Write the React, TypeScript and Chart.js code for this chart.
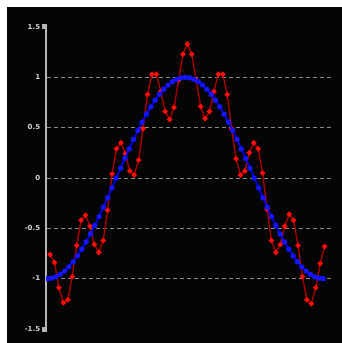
import React, { useEffect, useRef } from "react";
import { Chart, registerables } from "chart.js";

Chart.register(...registerables);

const blueValues = [
  -1, -0.995, -0.981, -0.957, -0.924, -0.882, -0.831, -0.773, -0.707, -0.634, -0.556, -0.471, -0.383, -0.29, -0.195, -0.098, 0,
  0.098, 0.195, 0.29, 0.383, 0.471, 0.556, 0.634, 0.707, 0.773, 0.831, 0.882, 0.924, 0.957, 0.981, 0.995, 1,
  0.995, 0.981, 0.957, 0.924, 0.882, 0.831, 0.773, 0.707, 0.634, 0.556, 0.471, 0.383, 0.29, 0.195, 0.098, 0,
  -0.098, -0.195, -0.29, -0.383, -0.471, -0.556, -0.634, -0.707, -0.773, -0.831, -0.882, -0.924, -0.957, -0.981, -0.995, -1,
];

const redValues = [
  -0.76, -0.84, -1.09, -1.24, -1.21, -0.98, -0.67, -0.42, -0.37, -0.48, -0.66, -0.74, -0.62, -0.32, 0.04, 0.29,
  0.35, 0.24, 0.07, 0.03, 0.18, 0.49, 0.83, 1.03, 1.03, 0.86, 0.66, 0.58, 0.7, 0.97, 1.23, 1.33,
  1.23, 0.97, 0.71, 0.59, 0.66, 0.86, 1.03, 1.03, 0.83, 0.49, 0.19, 0.03, 0.07, 0.25, 0.35, 0.29,
  0.05, -0.31, -0.62, -0.74, -0.66, -0.48, -0.36, -0.42, -0.67, -0.98, -1.21, -1.25, -1.09, -0.85, -0.68,
];

const yTicks = [-1.5, -1, -0.5, 0, 0.5, 1, 1.5];

export default function App() {
  const ref = useRef<HTMLCanvasElement | null>(null);
  useEffect(() => {
    if (!ref.current) return;
    const endMarks = {
      id: "endMarks",
      afterDraw(chart: any) {
        const y = chart.scales.y;
        const ctx = chart.ctx;
        ctx.save();
        ctx.fillStyle = "#b5b5b5";
        ctx.fillRect(y.right - 4, y.top - 3, 5, 5);
        ctx.fillRect(y.right - 4, y.bottom - 2, 5, 5);
        ctx.restore();
      },
    };
    const chart = new Chart(ref.current, {
      type: "line",
      data: {
        datasets: [
          {
            data: blueValues.map((v, i) => ({ x: i, y: v })),
            xAxisID: "x",
            borderColor: "#0000f0",
            backgroundColor: "#1414ff",
            borderWidth: 1.8,
            pointRadius: 2.6,
            pointBorderWidth: 0,
            pointStyle: "circle",
            tension: 0,
          },
          {
            data: redValues.map((v, i) => ({ x: i, y: v })),
            xAxisID: "x2",
            borderColor: "#b00000",
            backgroundColor: "#ff0d0d",
            borderWidth: 1.4,
            pointRadius: 3,
            pointBorderWidth: 0,
            pointStyle: "rectRot",
            tension: 0,
          },
        ],
      },
      options: {
        animation: false,
        responsive: false,
        maintainAspectRatio: false,
        layout: { padding: { left: 0, right: 9, top: 20, bottom: 14 } },
        plugins: { legend: { display: false }, tooltip: { enabled: false } },
        scales: {
          x: { type: "linear", display: false, min: -0.3, max: 66.25 },
          x2: { type: "linear", display: false, min: -0.926, max: 63.9 },
          y: {
            type: "linear",
            min: -1.5,
            max: 1.5,
            afterFit: (s: any) => {
              s.width = 39;
            },
            afterBuildTicks: (s: any) => {
              s.ticks = yTicks.map((v) => ({ value: v }));
            },
            ticks: {
              color: "#cfcfcf",
              font: { family: "DejaVu Sans", size: 7, weight: "bold" },
              padding: 6,
              callback: (v: any) => String(v),
            },
            grid: {
              drawTicks: false,
              lineWidth: 1,
              color: (c: any) =>
                c.tick && Math.abs(c.tick.value) === 1.5 ? "rgba(0,0,0,0)" : "#8a8a8a",
            },
            border: { display: true, color: "#b5b5b5", width: 2, dash: [4, 3] },
          },
        },
      },
      plugins: [
        {
          id: "bg",
          beforeDraw(chart: any) {
            const ctx = chart.ctx;
            ctx.save();
            ctx.fillStyle = "#050505";
            ctx.fillRect(0, 0, chart.width, chart.height);
            ctx.restore();
          },
        },
        endMarks,
      ],
    });
    return () => chart.destroy();
  }, []);
  return (
    <div style={{ position: "fixed", left: 7, top: 7, width: 335, height: 336, background: "#050505" }}>
      <canvas ref={ref} width={335} height={336} style={{ display: "block" }} />
    </div>
  );
}
